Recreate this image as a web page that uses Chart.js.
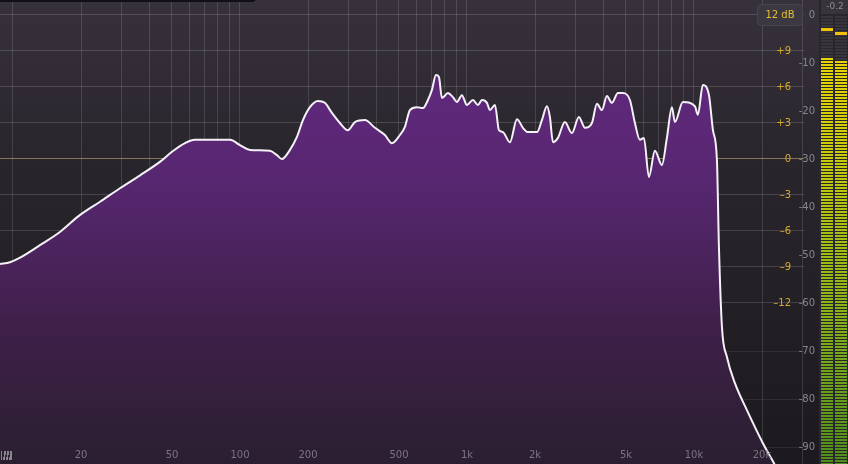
<!DOCTYPE html>
<html><head><meta charset="utf-8">
<script src="https://cdn.jsdelivr.net/npm/chart.js@4"></script>
<style>html,body{margin:0;padding:0;background:#1d1b1f;overflow:hidden}#wrap{width:848px;height:464px;position:relative}</style>
</head><body><div id="wrap"><canvas id="c" width="848" height="464"></canvas></div>
<script>
// ---- data ----
const spectrumFreqs = [8.77, 9.7, 10.7, 13.2, 16.1, 19.7, 24.2, 29.6, 36.3, 44.4, 50.2, 57.3, 63.3, 90.4, 100, 110.7, 135.6, 145.6, 153.1, 166.1, 178.3, 189.5, 203.4, 220.6, 236.8, 254.3, 275.7, 299, 321.1, 355.4, 393.3, 435.3, 467.3, 506.8, 533.2, 560.9, 602.2, 640.1, 673.4, 701.3, 730.3, 752.9, 776.2, 824.7, 867.6, 903.6, 950.6, 1000, 1063, 1118, 1165, 1225, 1263, 1329, 1384, 1441, 1547, 1661, 1765, 1857, 2034, 2140, 2251, 2321, 2393, 2517, 2702, 2901, 3114, 3311, 3554, 3739, 3933, 4137, 4352, 4627, 4867, 5225, 5497, 5782, 6022, 6335, 6731, 7228, 7604, 8000, 8247, 8945, 10100, 10410, 10950, 11650, 12130, 12630, 12890, 13290, 13980, 15160, 17120, 20140, 22750];
const spectrumDb = [-51.9, -51.5, -50.6, -47.9, -45.2, -41.7, -38.9, -36.1, -33.4, -30.6, -28.5, -26.7, -26.0, -26.0, -27.1, -28.1, -28.3, -29.2, -30.0, -28.1, -25.4, -21.9, -19.2, -17.9, -18.3, -20.4, -22.5, -24.0, -22.3, -21.9, -23.5, -25.0, -26.7, -25.0, -23.3, -19.8, -19.2, -19.4, -17.7, -15.6, -12.5, -12.9, -17.3, -16.25, -17.1, -18.1, -16.7, -18.75, -17.7, -18.75, -17.7, -18.3, -19.8, -18.75, -24.0, -24.4, -26.5, -21.7, -23.5, -24.4, -24.4, -21.9, -19.0, -21.25, -26.5, -25.6, -22.3, -24.6, -21.25, -23.5, -22.5, -18.5, -19.8, -16.9, -18.3, -16.25, -16.25, -17.7, -22.5, -26.0, -25.6, -33.75, -28.3, -31.25, -25.6, -19.2, -22.3, -18.1, -19.0, -20.8, -14.6, -16.7, -24.0, -30.2, -48.3, -65.0, -71.25, -76.7, -82.3, -89.2, -93.75];

const freqTicks = [20, 50, 100, 200, 500, 1000, 2000, 5000, 10000, 20000];
const freqTickLabels = ['20', '50', '100', '200', '500', '1k', '2k', '5k', '10k', '20k'];
const gridFreqs = [10, 20, 30, 40, 50, 60, 70, 80, 90, 100, 200, 300, 400, 500, 600, 700, 800, 900, 1000, 2000, 3000, 4000, 5000, 6000, 7000, 8000, 9000, 10000, 20000, 30000];

const eqGainTicks = [9, 6, 3, 0, -3, -6, -9, -12];
const eqGainLabels = ['+9', '+6', '+3', '0', '–3', '–6', '–9', '–12'];
const eqGridGains = [12, 9, 6, 3, 0, -3, -6, -9, -12];

const analyzerTicks = [0, -10, -20, -30, -40, -50, -60, -70, -80, -90];
const analyzerTickLabels = ['0', '-10', '-20', '-30', '-40', '-50', '-60', '-70', '-80', '-90'];
const analyzerGridDb = [-70, -80, -90];

const rangeLabel = '12 dB';
const meterLevelDb = [-8.75, -9.4];
const meterPeakDb = [-2.9, -3.75];
const meterPeakReadout = '-0.2';

// ---- plugins ----
const bgPlugin = {
  id: 'bg',
  beforeDraw(chart) {
    const { ctx, width, height } = chart;
    const g = ctx.createLinearGradient(0, 0, 0, height);
    g.addColorStop(0, '#37313c');
    g.addColorStop(0.35, '#29252c');
    g.addColorStop(1, '#1c1a1e');
    ctx.save();
    ctx.fillStyle = g;
    ctx.fillRect(0, 0, width, height);
    ctx.restore();
  }
};

function roundRect(ctx, x, y, w, h, r) {
  ctx.beginPath();
  ctx.moveTo(x + r, y);
  ctx.lineTo(x + w - r, y);
  ctx.quadraticCurveTo(x + w, y, x + w, y + r);
  ctx.lineTo(x + w, y + h - r);
  ctx.quadraticCurveTo(x + w, y + h, x + w - r, y + h);
  ctx.lineTo(x + r, y + h);
  ctx.quadraticCurveTo(x, y + h, x, y + h - r);
  ctx.lineTo(x, y + r);
  ctx.quadraticCurveTo(x, y, x + r, y);
  ctx.closePath();
}

const overlayPlugin = {
  id: 'overlay',
  afterDraw(chart) {
    const { ctx } = chart;
    const xs = chart.scales.x, ys = chart.scales.y, eq = chart.scales.eq;
    ctx.save();
    ctx.font = '10px "DejaVu Sans"';
    ctx.textBaseline = 'middle';

    // frequency labels
    ctx.fillStyle = '#7b7584';
    ctx.textAlign = 'center';
    freqTicks.forEach((f, i) => {
      ctx.fillText(freqTickLabels[i], Math.round(xs.getPixelForValue(f)), 455);
    });

    // piano icon
    ctx.fillStyle = '#8a8690';
    ctx.fillRect(1, 451, 11, 9);
    ctx.fillStyle = '#2a2030';
    ctx.fillRect(3, 451, 1, 6); ctx.fillRect(6, 451, 1, 6); ctx.fillRect(9, 451, 1, 6);
    ctx.fillRect(2, 451, 1, 9); ctx.fillRect(5, 455, 1, 5); ctx.fillRect(8, 455, 1, 5);

    // EQ gain labels (yellow)
    ctx.fillStyle = '#d6ac2a';
    ctx.textAlign = 'right';
    eqGainTicks.forEach((g, i) => {
      ctx.fillText(eqGainLabels[i], 791, Math.round(eq.getPixelForValue(g)));
    });

    // analyzer labels (gray)
    ctx.fillStyle = '#8a868f';
    analyzerTicks.forEach((v, i) => {
      ctx.fillText(analyzerTickLabels[i], 815, Math.round(ys.getPixelForValue(v)));
    });

    // range button
    roundRect(ctx, 757.5, 4.5, 45, 21, 4);
    ctx.fillStyle = '#3c3841';
    ctx.fill();
    ctx.strokeStyle = '#49454f';
    ctx.lineWidth = 1;
    ctx.stroke();
    ctx.fillStyle = '#e6c030';
    ctx.textAlign = 'center';
    ctx.fillText(rangeLabel, 780, 15);

    // meter
    ctx.fillStyle = '#29272b';
    ctx.fillRect(819, 0, 29, 464);
    ctx.fillStyle = '#37353a';
    ctx.fillRect(821, 0, 27, 14);
    ctx.fillStyle = '#8e8a93';
    ctx.font = '9px "DejaVu Sans"';
    ctx.fillText(meterPeakReadout, 835, 7);
    const cols = [821, 835];
    const mg = ctx.createLinearGradient(0, 40, 0, 464);
    mg.addColorStop(0, '#eed600');
    mg.addColorStop(0.25, '#cccc08');
    mg.addColorStop(0.5, '#a0be12');
    mg.addColorStop(0.75, '#76a81a');
    mg.addColorStop(1, '#4e8e1a');
    cols.forEach((cx, k) => {
      const top = ys.getPixelForValue(meterLevelDb[k]);
      for (let yy = 16; yy < 464; yy += 3) {
        ctx.fillStyle = yy + 2 >= top ? mg : '#38363b';
        ctx.fillRect(cx, yy, 12, 2);
      }
      ctx.fillStyle = '#f2c200';
      ctx.fillRect(cx, Math.round(ys.getPixelForValue(meterPeakDb[k])) - 1, 12, 3);
    });

    // top-left panel edge
    ctx.fillStyle = '#121014';
    roundRect(ctx, -10, -10, 266, 12, 4);
    ctx.fill();
    ctx.restore();
  }
};

// ---- chart ----
const ctx = document.getElementById('c').getContext('2d');
new Chart(ctx, {
  type: 'line',
  data: {
    datasets: [{
      data: spectrumFreqs.map((f, i) => ({ x: f, y: spectrumDb[i] })),
      borderColor: '#f4f2f6',
      borderWidth: 2,
      pointRadius: 0,
      cubicInterpolationMode: 'monotone',
      fill: 'start',
      yAxisID: 'y',
      backgroundColor: (c) => {
        const { ctx, chartArea } = c.chart;
        if (!chartArea) return 'rgba(0,0,0,0)';
        const g = ctx.createLinearGradient(0, 70, 0, chartArea.bottom);
        g.addColorStop(0, '#62297f');
        g.addColorStop(0.3, '#56266f');
        g.addColorStop(0.65, '#3f2049');
        g.addColorStop(1, '#2a1f30');
        return g;
      }
    }]
  },
  options: {
    responsive: false,
    animation: false,
    devicePixelRatio: 1,
    layout: { padding: { left: 0, right: 44, top: 0, bottom: 0 } },
    plugins: { legend: { display: false }, tooltip: { enabled: false } },
    scales: {
      x: {
        type: 'logarithmic', min: 8.77, max: 30550, z: 1,
        border: { display: false },
        ticks: { display: false },
        grid: { color: 'rgba(255,255,255,0.13)', drawTicks: false },
        afterBuildTicks: (s) => { s.ticks = gridFreqs.map(v => ({ value: v })); }
      },
      y: {
        type: 'linear', min: -93.54, max: 3.125, z: 1,
        border: { display: false },
        ticks: { display: false },
        grid: { color: 'rgba(255,255,255,0.08)', drawTicks: false },
        afterBuildTicks: (s) => { s.ticks = analyzerGridDb.map(v => ({ value: v })); }
      },
      eq: {
        type: 'linear', position: 'right', min: -25.4167, max: 13.25, z: 1,
        border: { display: false },
        ticks: { display: false },
        grid: {
          color: (c) => c.tick && c.tick.value === 0 ? 'rgba(225,195,125,0.5)' : 'rgba(255,255,255,0.15)',
          drawTicks: false
        },
        afterBuildTicks: (s) => { s.ticks = eqGridGains.map(v => ({ value: v })); }
      }
    }
  },
  plugins: [bgPlugin, overlayPlugin]
});
</script>
</body></html>
